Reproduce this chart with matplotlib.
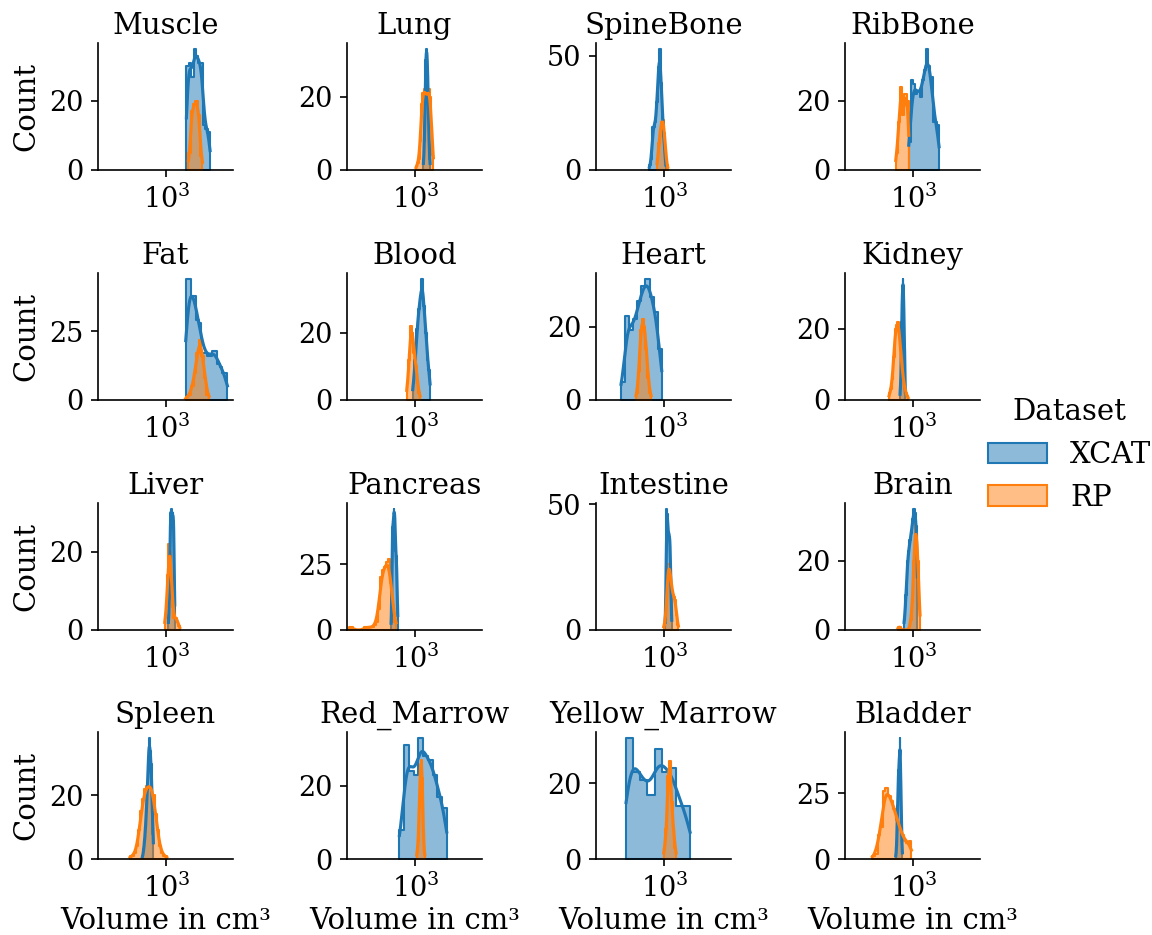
import numpy as np
import matplotlib
matplotlib.use("Agg")
import matplotlib.pyplot as plt
from matplotlib.patches import Patch
from matplotlib.ticker import NullLocator

plt.rcParams['font.family'] = 'serif'
plt.rcParams['font.serif'] = ['DejaVu Serif']
plt.rcParams['mathtext.fontset'] = 'dejavuserif'

organs = ["Muscle", "Lung", "SpineBone", "RibBone",
          "Fat", "Blood", "Heart", "Kidney",
          "Liver", "Pancreas", "Intestine", "Brain",
          "Spleen", "Red_Marrow", "Yellow_Marrow", "Bladder"]

# bin range (log10 of cm^3) and counts per organ, XCAT
xcat_lo = [3.889, 3.356, 2.333, 2.793, 3.859, 2.881, 1.074, 2.407,
           3.089, 1.919, 3.030, 2.585, 1.933, 2.289, 1.296, 2.215]
xcat_hi = [4.941, 3.652, 3.074, 4.141, 5.711, 3.652, 2.881, 2.644,
           3.370, 2.215, 3.326, 3.178, 2.422, 4.392, 4.141, 2.511]
xcat_counts = [
    [30, 31, 27, 35, 33, 31, 31, 13, 12, 11],
    [3, 8, 18, 30, 33, 32, 26, 15, 8, 3],
    [2, 5, 19, 19, 21, 30, 45, 53, 38, 20, 15, 2],
    [8, 26, 25, 22, 23, 21, 26, 29, 35, 30, 27, 14, 14, 13],
    [44, 44, 38, 38, 29, 28, 17, 17, 16, 16, 18, 18, 13, 12, 10, 10],
    [5, 12, 21, 27, 31, 36, 28, 20, 12, 9],
    [5, 23, 19, 22, 27, 31, 33, 28, 24, 14],
    [3, 8, 22, 30, 34, 28, 14, 4],
    [3, 8, 22, 30, 31, 30, 29, 30, 28, 10],
    [3, 39, 40, 46, 44, 30, 28, 10],
    [4, 20, 48, 46, 38, 39, 37, 36, 20, 6],
    [3, 10, 20, 23, 26, 28, 32, 35, 34, 30],
    [1, 3, 6, 10, 16, 22, 32, 38, 34, 30, 20, 8],
    [8, 31, 24, 23, 33, 28, 27, 23, 17, 14],
    [32, 23, 21, 17, 29, 23, 24, 14, 14],
    [2, 5, 20, 28, 34, 38, 46, 30, 12, 4],
]

# RP
rp_lo = [3.978, 3.030, 2.674, 2.215, 3.859, 2.615, 1.741, 1.919,
         2.926, 0.067, 2.970, 2.319, 1.385, 3.059, 2.970, 1.178]
rp_hi = [4.600, 3.800, 3.148, 2.793, 4.896, 3.207, 2.407, 2.763,
         3.593, 2.141, 3.622, 3.296, 3.015, 3.415, 3.519, 2.911]
rp_counts = [
    [5, 17, 19, 20, 16, 4],
    [1, 2, 3, 8, 18, 21, 22, 21, 20, 21, 22, 20, 12, 4],
    [5, 12, 18, 21, 22, 16, 8, 2],
    [5, 14, 24, 16, 22, 20],
    [1, 2, 5, 10, 17, 22, 16, 8, 2],
    [5, 12, 22, 20, 14, 10, 5, 2],
    [2, 8, 19, 22, 20, 14, 6, 2],
    [2, 3, 6, 12, 20, 21, 22, 20, 14, 9, 6, 3, 2, 1],
    [3, 6, 14, 22, 20, 12, 6, 3, 3, 3, 2, 1],
    [1, 1, 0, 0, 0, 0, 0, 1, 1, 1, 1, 1, 2, 3, 8, 20, 23, 24, 26, 27, 18, 8, 3],
    [2, 4, 12, 26, 26, 22, 17, 14, 13, 12, 6, 2],
    [1, 1, 0, 0, 0, 0, 0, 0, 1, 3, 8, 20, 31, 28, 20, 6],
    [1, 1, 2, 4, 9, 15, 19, 22, 23, 23, 23, 20, 14, 9, 4, 2, 1, 1],
    [2, 5, 14, 25, 27, 22, 8, 2],
    [3, 8, 22, 26, 15, 8, 3],
    [1, 2, 9, 12, 26, 27, 24, 22, 19, 15, 12, 9, 7, 6, 7],
]

datasets = ["XCAT", "RP"]
colors = {"XCAT": "#1f77b4", "RP": "#ff7f0e"}


def kde_curve(lo, hi, counts):
    # gaussian kde (scott) of the binned sample, in log10 space, scaled to counts
    c = np.asarray(counts, float)
    edges = np.linspace(lo, hi, len(c) + 1)
    centers = 0.5 * (edges[:-1] + edges[1:])
    width = edges[1] - edges[0]
    n = c.sum()
    w = c / n
    mean = np.sum(w * centers)
    var = np.sum(w * (centers - mean) ** 2) + width ** 2 / 12
    bw = np.sqrt(var) * n ** (-0.2)
    grid = np.linspace(lo, hi, 200)
    dens = np.sum(w[:, None] * np.exp(-0.5 * ((grid[None, :] - centers[:, None]) / bw) ** 2), axis=0)
    dens /= bw * np.sqrt(2 * np.pi)
    return 10 ** grid, dens * n * width


def draw_hist(ax, lo, hi, counts, color):
    c = np.asarray(counts, float)
    edges = 10 ** np.linspace(lo, hi, len(c) + 1)
    ax.fill_between(edges, np.append(c, c[-1]), step="post",
                    facecolor=matplotlib.colors.to_rgba(color, 0.5),
                    edgecolor=color, linewidth=1.0)
    gx, gy = kde_curve(lo, hi, counts)
    ax.plot(gx, gy, color=color, linewidth=1.5)


W, H = 1152, 935
fig = plt.figure(figsize=(W / 150, H / 150), dpi=150)

lefts = [98, 347, 596, 845]
tops = [43, 273, 503, 732]
ax_w, ax_h = 135, 127

for k, organ in enumerate(organs):
    r, col = divmod(k, 4)
    ax = fig.add_axes([lefts[col] / W, 1 - (tops[r] + ax_h) / H, ax_w / W, ax_h / H])
    ax.set_xscale("log")
    draw_hist(ax, xcat_lo[k], xcat_hi[k], xcat_counts[k], colors["XCAT"])
    draw_hist(ax, rp_lo[k], rp_hi[k], rp_counts[k], colors["RP"])
    ax.set_xlim(10 ** -0.04, 10 ** 5.96)
    ax.set_ylim(0, None)
    ax.set_xticks([1000])
    ax.xaxis.set_minor_locator(NullLocator())
    ax.tick_params(labelsize=13)
    ax.spines['top'].set_visible(False)
    ax.spines['right'].set_visible(False)
    ax.set_title(organ, fontsize=14, pad=4.5)
    if col == 0:
        ax.set_ylabel("Count", fontsize=14)
    if r == 3:
        ax.set_xlabel("Volume in cm³", fontsize=14, labelpad=2)

handles = [Patch(facecolor=matplotlib.colors.to_rgba(colors[d], 0.5), edgecolor=colors[d], label=d)
           for d in datasets]
fig.legend(handles=handles, title="Dataset", loc="center left",
           bbox_to_anchor=(962 / W, 1 - 455 / H), frameon=False,
           fontsize=14, title_fontsize=14)

fig.savefig("out.png", dpi=150)
